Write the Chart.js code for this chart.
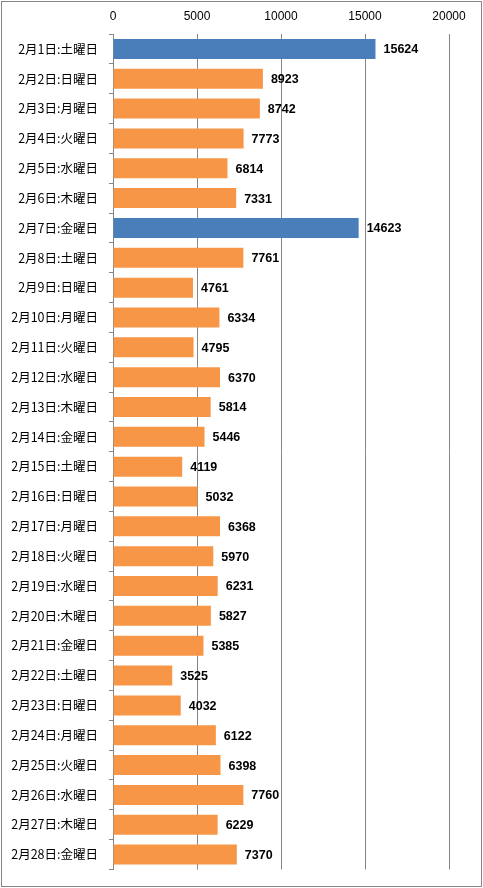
<!DOCTYPE html>
<html><head><meta charset="utf-8">
<script src="https://cdn.jsdelivr.net/npm/chart.js@4"></script>
<style>
html,body{margin:0;padding:0;background:#fff;}
#wrap{position:relative;width:483px;height:888px;}
</style></head>
<body><div id="wrap"><canvas id="c" width="483" height="888"></canvas></div>
<script>
const categories = ["2月1日:土曜日","2月2日:日曜日","2月3日:月曜日","2月4日:火曜日","2月5日:水曜日","2月6日:木曜日","2月7日:金曜日","2月8日:土曜日","2月9日:日曜日","2月10日:月曜日","2月11日:火曜日","2月12日:水曜日","2月13日:木曜日","2月14日:金曜日","2月15日:土曜日","2月16日:日曜日","2月17日:月曜日","2月18日:火曜日","2月19日:水曜日","2月20日:木曜日","2月21日:金曜日","2月22日:土曜日","2月23日:日曜日","2月24日:月曜日","2月25日:火曜日","2月26日:水曜日","2月27日:木曜日","2月28日:金曜日"];
const values = [15624,8923,8742,7773,6814,7331,14623,7761,4761,6334,4795,6370,5814,5446,4119,5032,6368,5970,6231,5827,5385,3525,4032,6122,6398,7760,6229,7370];
const highlighted = ["2月1日:土曜日","2月7日:金曜日"];
const xTicks = [0,5000,10000,15000,20000];

const BLUE = "#4A7EBB", ORANGE = "#F79646", GRID = "#868686";

const labelPlugin = {
  id: 'valLabels',
  afterDatasetsDraw(chart){
    const ctx = chart.ctx;
    const meta = chart.getDatasetMeta(0);
    ctx.save();
    ctx.font = "bold 12.5px 'Liberation Sans', Arial, sans-serif";
    ctx.fillStyle = "#000";
    ctx.textBaseline = "middle";
    ctx.textAlign = "left";
    meta.data.forEach((bar,i)=>{
      ctx.fillText(String(values[i]), bar.x + 8, bar.y + 1);
    });
    ctx.restore();
  }
};
const borderPlugin = {
  id: 'outerBorder',
  afterDraw(chart){
    const ctx = chart.ctx;
    ctx.save();
    ctx.strokeStyle = "#868686";
    ctx.lineWidth = 1;
    ctx.strokeRect(1.5,1.5,chart.width-3,chart.height-3);
    ctx.restore();
  }
};

new Chart(document.getElementById('c'), {
  type: 'bar',
  data: {
    labels: categories,
    datasets: [{
      data: values,
      backgroundColor: categories.map(c => highlighted.includes(c) ? BLUE : ORANGE),
      borderWidth: 0,
      barPercentage: 0.67,
      categoryPercentage: 1.0
    }]
  },
  options: {
    indexAxis: 'y',
    responsive: false,
    animation: false,
    devicePixelRatio: 1,
    layout: { padding: { left: 0, top: 0, right: 34, bottom: 17 } },
    plugins: { legend: { display: false }, tooltip: { enabled: false } },
    scales: {
      x: {
        position: 'top',
        min: 0, max: 20000,
        afterBuildTicks: s => { s.ticks = xTicks.map(v => ({value: v})); },
        afterFit: s => { s.height = 34; },
        grid: { color: GRID, drawTicks: false, lineWidth: 1 },
        border: { display: false },
        ticks: { color: "#000", padding: 10, font: { size: 12, family: "'Liberation Sans', Arial, sans-serif" }, maxRotation: 0, callback: v => String(v) }
      },
      y: {
        afterFit: s => { s.width = 113; },
        grid: { offset: true, drawOnChartArea: false, color: GRID, tickLength: 4, drawTicks: true },
        border: { display: true, color: GRID, width: 1 },
        ticks: { color: "#000", padding: 11, font: { size: 12.5, family: "'Noto Sans CJK JP', sans-serif" }, autoSkip: false }
      }
    }
  },
  plugins: [labelPlugin, borderPlugin]
});
</script></body></html>
